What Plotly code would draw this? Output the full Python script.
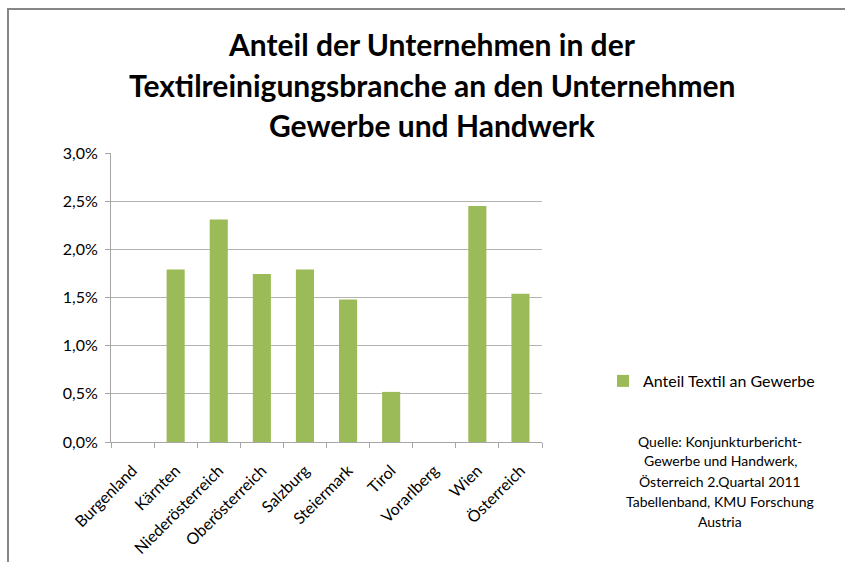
import plotly.graph_objects as go

categories = ["Burgenland", "Kärnten", "Niederösterreich", "Oberösterreich", "Salzburg",
              "Steiermark", "Tirol", "Vorarlberg", "Wien", "Österreich"]
values = [None, 0.0179, 0.0231, 0.01745, 0.0179, 0.0148, 0.0052, None, 0.0245, 0.0154]
series_name = "Anteil Textil an Gewerbe"
title_lines = ["Anteil der Unternehmen in der",
               "Textilreinigungsbranche an den Unternehmen",
               "Gewerbe und Handwerk"]
source_lines = ["Quelle: Konjunkturbericht-", "Gewerbe und Handwerk,",
                "Österreich 2.Quartal 2011", "Tabellenband, KMU Forschung", "Austria"]
y_ticks = [0, 0.005, 0.01, 0.015, 0.02, 0.025, 0.03]

W, H = 845, 562
L, R, T, B = 111, 542, 153, 442
FONT = "Lato"


def px(x):
    return (x - L) / (R - L)


def py(y):
    return (B - y) / (B - T)


fig = go.Figure()
fig.add_trace(go.Bar(x=categories, y=values, name=series_name,
                     marker=dict(color="#9BBB59", line=dict(width=0))))

annotations = []
title_y = [44, 85, 125]
for line, yy in zip(title_lines, title_y):
    annotations.append(dict(text="<b>" + line + "</b>", x=px(432), y=py(yy), xref="paper", yref="paper",
                            showarrow=False, xanchor="center", yanchor="middle",
                            font=dict(family=FONT, size=30, color="#000000")))
src_y = [441, 461, 481, 501, 521]
for line, yy in zip(source_lines, src_y):
    annotations.append(dict(text=line, x=px(720), y=py(yy), xref="paper", yref="paper",
                            showarrow=False, xanchor="center", yanchor="middle",
                            font=dict(family=FONT, size=14, color="#000000")))

fig.update_layout(
    width=W, height=H,
    margin=dict(l=L, r=W - R, t=T, b=H - B, pad=0, autoexpand=False),
    paper_bgcolor="white", plot_bgcolor="white",
    font=dict(family=FONT, size=16, color="#000000"),
    bargap=0.58,
    showlegend=True,
    legend=dict(x=px(603), y=py(381), xanchor="left", yanchor="middle",
                xref="paper", yref="paper",
                font=dict(family=FONT, size=16, color="#000000"),
                itemwidth=30, bgcolor="rgba(0,0,0,0)"),
    annotations=annotations,
    shapes=[dict(type="rect", xref="paper", yref="paper",
                 x0=px(8), x1=px(900), y0=py(9), y1=py(620),
                 line=dict(color="#868686", width=2), layer="below")],
    xaxis=dict(showline=True, linecolor="#a6a6a6", linewidth=1,
               ticks="outside", tickson="boundaries", ticklen=5, tickcolor="#a6a6a6",
               tickangle=-45, tickfont=dict(family=FONT, size=16), showgrid=False,
               ticklabelstandoff=12, automargin=False),
    yaxis=dict(range=[0, 0.03], tickvals=y_ticks, tickformat=".1%",
               showline=True, linecolor="#a6a6a6", linewidth=1,
               ticks="outside", ticklen=5, tickcolor="#a6a6a6",
               showgrid=True, gridcolor="#b3b3b3", gridwidth=1,
               tickfont=dict(family=FONT, size=16), zeroline=False,
               ticklabelstandoff=4, automargin=False),
    separators=",.",
)

fig.write_html("out.html", config={"displayModeBar": False},
               post_script="document.body.style.margin='0';document.body.style.overflow='hidden';")
